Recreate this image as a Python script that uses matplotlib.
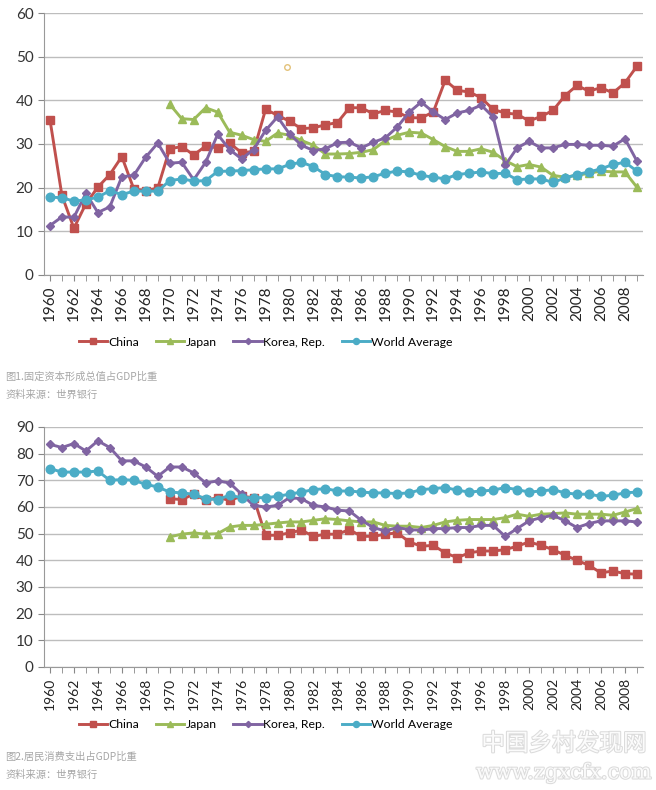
import numpy as np
import matplotlib
matplotlib.use("Agg")
import matplotlib.pyplot as plt
import matplotlib.patheffects as pe

# ---- data ----
years = list(range(1960, 2010))
years70 = list(range(1970, 2010))
series_names = ["China", "Japan", "Korea, Rep.", "World Average"]

# Fig 1: gross fixed capital formation, % of GDP
china_gcf = [35.6, 18.2, 10.7, 16.3, 20.1, 23.0, 27.1, 19.7, 19.3, 19.9,
             28.9, 29.4, 27.5, 29.5, 29.1, 30.2, 28.0, 28.3, 37.9, 36.6,
             35.2, 33.5, 33.7, 34.4, 34.9, 38.3, 38.3, 36.9, 37.7, 37.3,
             36.0, 36.0, 37.3, 44.6, 42.3, 41.9, 40.6, 37.9, 37.1, 36.8,
             35.3, 36.3, 37.7, 41.1, 43.4, 42.1, 42.9, 41.7, 44.0, 47.8]
japan_gcf = [39.1, 35.8, 35.6, 38.3, 37.3, 32.7, 32.0, 31.0, 30.6, 32.5,
             32.0, 30.8, 29.7, 27.7, 27.7, 27.8, 28.1, 28.7, 30.8, 32.0,
             32.7, 32.5, 31.0, 29.4, 28.3, 28.3, 28.9, 28.1, 26.2, 24.8,
             25.3, 24.7, 22.8, 22.4, 22.8, 23.3, 23.8, 23.6, 23.6, 20.1]
korea_gcf = [11.3, 13.3, 13.2, 18.7, 14.3, 15.6, 22.5, 22.8, 27.0, 30.2,
             25.6, 25.8, 21.8, 25.8, 32.2, 28.7, 26.6, 28.7, 33.1, 36.2,
             32.3, 29.7, 28.5, 28.9, 30.3, 30.4, 29.1, 30.4, 31.4, 33.9,
             37.3, 39.6, 37.3, 35.6, 37.1, 37.7, 38.9, 36.2, 25.1, 29.1,
             30.6, 29.1, 29.1, 29.9, 29.9, 29.7, 29.7, 29.5, 31.2, 26.1]
world_gcf = [17.8, 17.7, 16.9, 17.2, 17.8, 19.3, 18.4, 19.2, 19.2, 19.2,
             21.6, 22.0, 21.5, 21.6, 23.7, 23.8, 23.9, 24.1, 24.3, 24.3,
             25.3, 25.8, 24.8, 23.0, 22.5, 22.4, 22.2, 22.5, 23.3, 23.8,
             23.6, 22.8, 22.4, 22.0, 23.0, 23.3, 23.6, 23.2, 23.3, 21.8,
             22.0, 22.0, 21.2, 22.2, 23.0, 23.6, 24.3, 25.3, 25.8, 23.8]
stray_x, stray_y = [1979.8], [47.6]   # odd little ring in the original

# Fig 2: household consumption, % of GDP
china_cons = [63.1, 62.8, 64.8, 62.5, 63.5, 62.5, 64.0, 63.5, 49.4, 49.4,
              50.3, 51.3, 49.0, 49.8, 49.8, 51.5, 49.0, 49.0, 49.8, 50.3,
              46.9, 45.3, 45.6, 42.8, 41.0, 42.8, 43.5, 43.5, 44.0, 45.3,
              46.9, 45.6, 44.0, 41.9, 40.0, 38.1, 35.3, 36.0, 35.0, 34.8]
japan_cons = [48.8, 49.8, 50.3, 49.8, 50.0, 52.5, 53.1, 53.1, 53.5, 54.0,
              54.4, 54.4, 55.0, 55.6, 55.3, 54.8, 54.4, 54.4, 53.1, 52.8,
              52.8, 52.3, 53.1, 54.4, 55.0, 55.3, 55.3, 55.3, 56.0, 57.3,
              56.5, 57.3, 57.5, 57.8, 57.3, 57.3, 57.3, 56.9, 58.1, 59.4]
korea_cons = [83.5, 82.3, 83.8, 81.0, 84.8, 82.3, 77.3, 77.3, 75.0, 71.5,
              75.0, 75.0, 72.8, 69.0, 69.8, 69.0, 64.8, 60.6, 60.0, 60.6,
              63.5, 63.1, 60.6, 60.0, 58.8, 58.5, 55.0, 52.3, 51.0, 52.3,
              51.5, 51.3, 51.9, 51.9, 52.3, 52.3, 53.1, 53.1, 49.0, 51.9,
              54.8, 56.0, 56.9, 54.8, 52.3, 53.8, 54.8, 54.8, 54.8, 54.4]
world_cons = [74.4, 73.1, 73.1, 73.1, 73.5, 70.0, 70.3, 70.0, 68.5, 67.5,
              65.6, 65.3, 64.8, 63.1, 62.8, 64.4, 63.5, 63.5, 63.5, 64.0,
              64.8, 65.6, 66.5, 66.9, 66.0, 66.0, 65.6, 65.3, 65.3, 65.0,
              65.3, 66.5, 66.9, 67.3, 66.3, 65.6, 66.0, 66.3, 67.3, 66.5,
              65.6, 66.0, 66.5, 65.3, 64.8, 64.8, 64.0, 64.4, 65.3, 65.6]

captions = [("图1.固定资本形成总值占GDP比重", "资料来源：世界银行"),
            ("图2.居民消费支出占GDP比重", "资料来源：世界银行")]

colors = ["#C0504D", "#9BBB59", "#8064A2", "#4BACC6"]
markers = ["s", "^", "D", "o"]
msizes = [6.0, 6.0, 4.5, 6.2]

plt.rcParams["font.family"] = ["Lato", "DejaVu Sans"]
cjk = ["Noto Sans CJK SC", "DejaVu Sans"]

fig = plt.figure(figsize=(6.56, 7.90), dpi=100)


def draw_panel(ax, xs_list, ys_list, ymax, ystep, xfont):
    for xs, ys, c, m, ms in zip(xs_list, ys_list, colors, markers, msizes):
        ax.plot(xs, ys, color=c, lw=2.1, marker=m, ms=ms, mec=c, mfc=c,
                solid_joinstyle="round")
    ax.set_xlim(1959.5, 2009.5)
    ax.set_ylim(0, ymax)
    ax.set_yticks(np.arange(0, ymax + 1, ystep))
    ax.yaxis.grid(True, color="#BDBDBD", lw=1.0)
    ax.set_axisbelow(True)
    ax.set_xticks(range(1960, 2010, 2))
    ax.set_xticks(range(1960, 2010), minor=True)
    ax.set_xticklabels([str(y) for y in range(1960, 2010, 2)], rotation=90,
                       fontsize=xfont, color="#222222")
    ax.tick_params(axis="x", which="both", length=4, color="#888888")
    ax.tick_params(axis="y", length=4, color="#888888", labelsize=11,
                   labelcolor="#333333")
    for s in ["top", "right"]:
        ax.spines[s].set_visible(False)
    for s in ["left", "bottom"]:
        ax.spines[s].set_color("#999999")


ax1 = fig.add_axes([0.067, 0.652, 0.913, 0.3315])
draw_panel(ax1, [years, years70, years, years],
           [china_gcf, japan_gcf, korea_gcf, world_gcf], 60, 10, 11)
ax1.plot(stray_x, stray_y, "o", ms=4, mfc="none", mec="#E3C27A", mew=1)

ax2 = fig.add_axes([0.067, 0.1557, 0.913, 0.3038])
draw_panel(ax2, [years70, years70, years, years],
           [china_cons, japan_cons, korea_cons, world_cons], 90, 10, 10)

for ax, ly in [(ax1, 0.567), (ax2, 0.0823)]:
    lines = ax.get_lines()[:4]
    fig.legend(lines, series_names, loc="center", ncol=4, frameon=False,
               bbox_to_anchor=(0.405, ly), fontsize=8.8, handlelength=2.3,
               handletextpad=0.1, columnspacing=1.4, markerscale=0.7)

for (c1, c2), y1 in zip(captions, [377, 757]):
    fig.text(5 / 656, 1 - y1 / 790, c1, family=cjk, fontsize=7.4,
             color="#A6A6A6", va="center")
    fig.text(5 / 656, 1 - (y1 + 18) / 790, c2, family=cjk, fontsize=7.4,
             color="#A6A6A6", va="center")

# faint site watermark
wm = [pe.withStroke(linewidth=1.5, foreground="#D8D8D8")]
fig.text(564 / 656, 1 - 744 / 790, "中国乡村发现网", family=cjk, fontsize=17,
         color="white", ha="center", va="center", path_effects=wm, alpha=0.9)
fig.text(564 / 656, 1 - 773 / 790, "www.zgxcfx.com", family=["DejaVu Serif"],
         fontsize=15, color="white", ha="center", va="center",
         path_effects=wm, alpha=0.9)

fig.savefig("out.png", dpi=100, facecolor="white")
